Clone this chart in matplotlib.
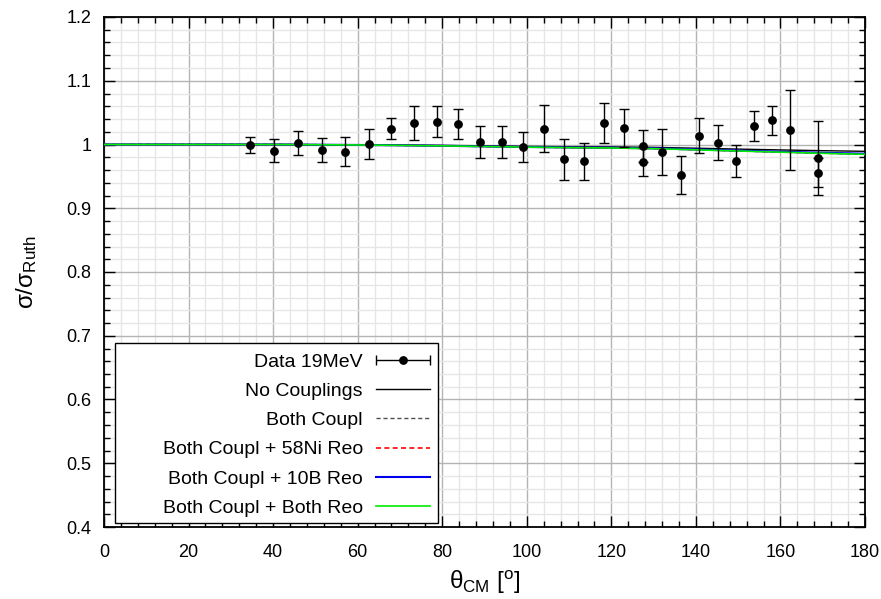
import numpy as np
import matplotlib
matplotlib.use("Agg")
import matplotlib.pyplot as plt
from matplotlib.container import ErrorbarContainer
from matplotlib.legend_handler import HandlerErrorbar
from matplotlib.patches import Rectangle
from matplotlib.ticker import MultipleLocator

plt.rcParams['font.family'] = ['Liberation Sans', 'DejaVu Sans']
plt.rcParams['mathtext.fontset'] = 'custom'
plt.rcParams['mathtext.rm'] = 'Liberation Sans'
plt.rcParams['mathtext.it'] = 'Liberation Sans:italic'
plt.rcParams['mathtext.sf'] = 'Liberation Sans'

# Measured elastic angular distribution, 19 MeV
theta_data = [34.5, 40.3, 45.9, 51.5, 57.0, 62.6, 68.0, 73.3, 78.7, 83.8,
              89.0, 94.1, 99.1, 104.1, 108.9, 113.6, 118.3, 123.0, 127.6, 127.6,
              132.0, 136.5, 140.8, 145.2, 149.5, 153.7, 158.0, 162.2, 168.8, 168.8]
ratio_data = [0.999, 0.990, 1.002, 0.991, 0.989, 1.001, 1.025, 1.034, 1.036, 1.032,
              1.004, 1.004, 0.996, 1.025, 0.977, 0.974, 1.034, 1.026, 0.998, 0.973,
              0.988, 0.952, 1.014, 1.003, 0.974, 1.029, 1.038, 1.023, 0.979, 0.956]
ratio_err = [0.012, 0.018, 0.019, 0.019, 0.022, 0.023, 0.016, 0.027, 0.025, 0.023,
             0.025, 0.025, 0.023, 0.037, 0.032, 0.029, 0.031, 0.030, 0.025, 0.023,
             0.036, 0.030, 0.027, 0.028, 0.025, 0.024, 0.023, 0.063, 0.058, 0.023]

# Calculated ratios to Rutherford
theta_calc = [0, 20, 40, 60, 70, 80, 90, 100, 110, 120, 130, 140, 150, 160, 170, 180]
no_couplings = [1.0, 1.0, 1.0, 0.9995, 0.999, 0.9986, 0.998, 0.997, 0.9965, 0.9962,
                0.9955, 0.9942, 0.9928, 0.9915, 0.9903, 0.9893]
both_coupl = [1.0, 1.0, 1.0, 0.9993, 0.9987, 0.998, 0.997, 0.996, 0.9953, 0.9948,
              0.9938, 0.992, 0.9902, 0.9884, 0.9866, 0.9852]
coupl_ni_reo = [1.0, 1.0, 1.0, 0.9993, 0.9987, 0.998, 0.997, 0.996, 0.9952, 0.9946,
                0.9936, 0.9918, 0.99, 0.9882, 0.9864, 0.985]
coupl_b_reo = [1.0, 1.0, 1.0, 0.9993, 0.9987, 0.998, 0.997, 0.9961, 0.9954, 0.9949,
               0.994, 0.9922, 0.9904, 0.9887, 0.987, 0.9856]
coupl_both_reo = [1.0, 1.0, 1.0, 0.9993, 0.9986, 0.9979, 0.9969, 0.9959, 0.9951, 0.9945,
                  0.9935, 0.9916, 0.9898, 0.988, 0.9862, 0.9846]

fig = plt.figure(figsize=(8.81, 5.99), dpi=100)
ax = fig.add_axes([104/881, 1-527/599, 761/881, 510/599])

ax.plot(theta_calc, no_couplings, color='black', lw=1.0, label='No Couplings', zorder=3)
ax.plot(theta_calc, both_coupl, color='#505050', lw=1.0, dashes=(3, 2), label='Both Coupl', zorder=3)
ax.plot(theta_calc, coupl_ni_reo, color='red', lw=1.2, dashes=(3, 2), label='Both Coupl + 58Ni Reo', zorder=3)
ax.plot(theta_calc, coupl_b_reo, color='#0000ee', lw=1.5, label='Both Coupl + 10B Reo', zorder=3)
ax.plot(theta_calc, coupl_both_reo, color='#00ee00', lw=1.2, label='Both Coupl + Both Reo', zorder=3)

ax.errorbar(theta_data, ratio_data, yerr=ratio_err, fmt='o', color='black',
            ms=5.3, elinewidth=1.0, capsize=3.4, capthick=1.0, zorder=4)
# legend key for the data: horizontal bar with caps
key = ax.errorbar([np.nan], [np.nan], xerr=[1.0], fmt='o', color='black',
                  ms=5.3, elinewidth=1.0, capsize=3.4, capthick=1.0, label='Data 19MeV')

ax.set_xlim(0, 180)
ax.set_ylim(0.4, 1.2)
ax.xaxis.set_major_locator(MultipleLocator(20))
ax.xaxis.set_minor_locator(MultipleLocator(4))
ax.yaxis.set_major_locator(MultipleLocator(0.1))
ax.yaxis.set_minor_locator(MultipleLocator(0.02))
ax.yaxis.set_major_formatter(plt.FuncFormatter(lambda v, p: f'{v:g}'))

ax.grid(which='major', color='#b4b4b4', lw=1.0)
ax.grid(which='minor', color='#e6e6e6', lw=1.0)
ax.set_axisbelow(True)

ax.tick_params(which='both', direction='in', top=True, right=True, labelsize=13, color='black')
ax.tick_params(which='major', length=8, width=1.0)
ax.tick_params(which='minor', length=4, width=1.0)
ax.tick_params(axis='x', which='major', pad=12)
ax.tick_params(axis='y', which='major', pad=9)
for s in ax.spines.values():
    s.set_linewidth(1.3)

ax.set_xlabel('θ$_{\\rm CM}$ [$^{\\rm o}$]', fontsize=17.5, labelpad=6)
ax.set_ylabel('σ/σ$_{\\rm Ruth}$', fontsize=17.5, labelpad=20)

# legend frame drawn separately so it can be wider than its contents
frame = Rectangle((11/761, 4/510), 323/761, 180/510, transform=ax.transAxes,
                  facecolor='white', edgecolor='black', lw=1.0, zorder=4.5)
ax.add_patch(frame)

handles, labels = ax.get_legend_handles_labels()
order = ['Data 19MeV', 'No Couplings', 'Both Coupl', 'Both Coupl + 58Ni Reo',
         'Both Coupl + 10B Reo', 'Both Coupl + Both Reo']
hmap = dict(zip(labels, handles))
leg = ax.legend([hmap[k] for k in order], order, loc='center right',
                bbox_to_anchor=((430-104)/761, (527-435)/510), borderaxespad=0,
                markerfirst=False, fontsize=14, frameon=False,
                handlelength=2.8, handletextpad=0.65, labelspacing=0.6, borderpad=0,
                handler_map={ErrorbarContainer: HandlerErrorbar(xerr_size=1.4)})
leg.set_zorder(5)

fig.savefig('out.png', dpi=100)
